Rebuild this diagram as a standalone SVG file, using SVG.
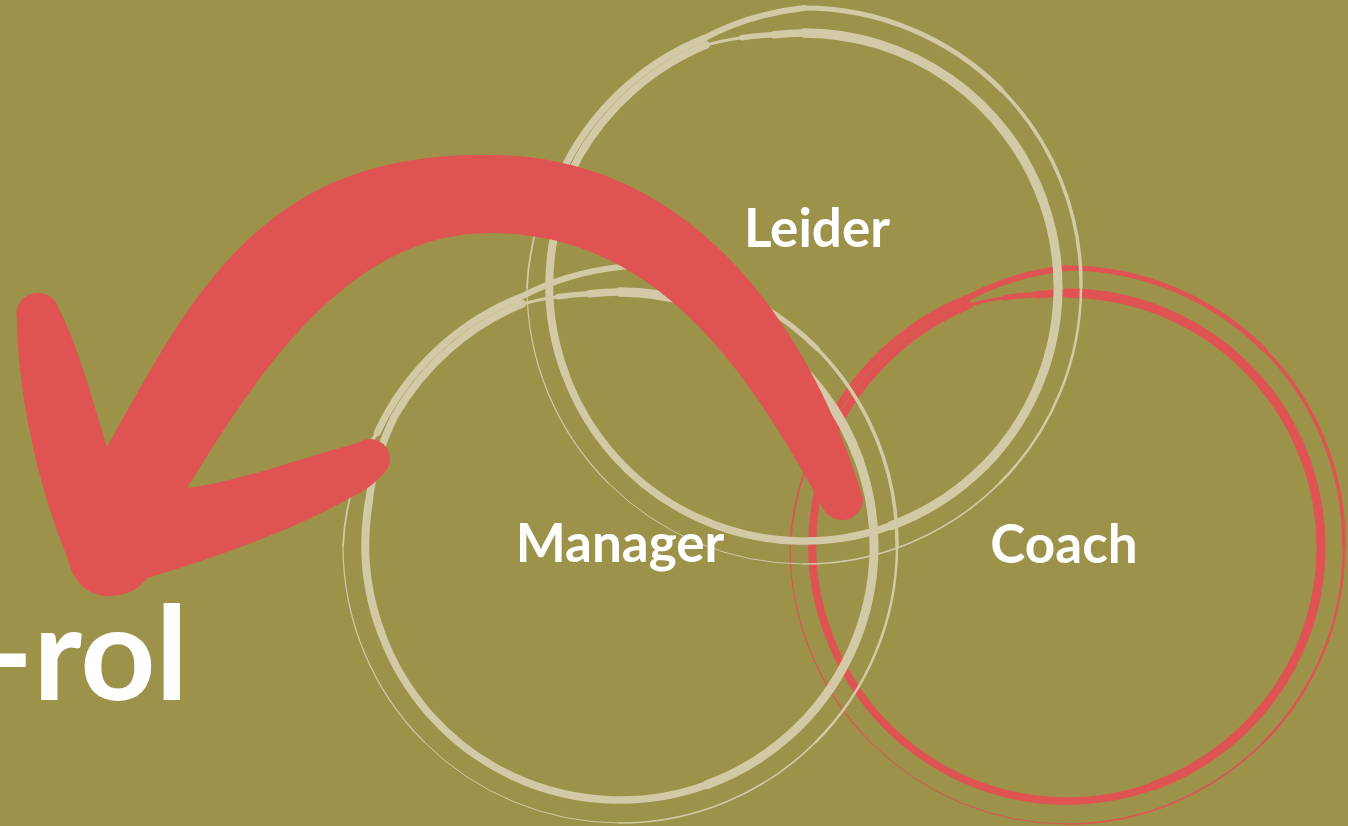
<svg xmlns="http://www.w3.org/2000/svg" xmlns:xlink="http://www.w3.org/1999/xlink" width="1348" height="826" viewBox="0 0 1348 826">
<style>
.lbl{font-family:Lato,"Liberation Sans",sans-serif;font-weight:700;fill:#ffffff;text-anchor:middle;font-size:53px}
.cream{stroke:#D3C9A6}
.red{stroke:#E05353}
</style>
<defs>
<g id="ring" fill="none" stroke-linecap="round">
 <path d="M-106.6,-239.4 A262,262 0 0 1 -62.2,-249.3" stroke-width="3"/>
 <path d="M-62.2,-249.3 A257,257 0 0 1 -30,-252.2" stroke-width="5.5"/>
 <path d="M-30,-252.2 A255,255 0 0 1 0,-254" stroke-width="7.5"/>
 <path d="M0,-254 A254,254 0 0 1 238.7,-86.9" stroke-width="9.5"/>
 <path d="M238.7,-86.9 A254,254 0 0 1 86.9,238.7" stroke-width="9"/>
 <path d="M86.9,238.7 A254,254 0 0 1 -238.7,86.9" stroke-width="7.5"/>
 <path d="M-238.7,86.9 A254,254 0 0 1 -251.1,-44.3" stroke-width="8"/>
 <path d="M-251.1,-44.3 A258,258 0 0 1 -225.2,-130 A261,261 0 0 1 -97.8,-242" stroke-width="7.5"/>
 <path d="M-242.8,-113.3 A268,268 0 0 1 -100.4,-248.5" stroke-width="7"/>
 <path d="M-100.4,-248.5 A279,279 0 0 1 0,-279" stroke-width="6"/>
 <path d="M0,-279 A279,279 0 0 1 197.3,-197.3" stroke-width="5"/>
 <path d="M197.3,-197.3 A277,277 0 0 1 277,0" stroke-width="3.5"/>
 <path d="M277,0 A277,277 0 0 1 195.9,195.9" stroke-width="2.5"/>
 <path d="M195.9,195.9 A277,277 0 0 1 0,277" stroke-width="1.6"/>
 <path d="M0,277 A277,277 0 0 1 -195.9,195.9" stroke-width="1"/>
 <path d="M-195.9,195.9 A277,277 0 0 1 -277,0" stroke-width="1.2"/>
 <path d="M-277,0 A274,274 0 0 1 -255.6,-93" stroke-width="1.8"/>
 <path d="M-255.6,-93 A270,270 0 0 1 -242.8,-113.3" stroke-width="3.5"/>
</g>
</defs>
<rect width="1348" height="826" fill="#9C9249"/>
<g id="coach">
 <use xlink:href="#ring" href="#ring" class="red" transform="translate(1067,547)"/>
 <text class="lbl" x="1064" y="563">Coach</text>
</g>
<g id="leider">
 <use xlink:href="#ring" href="#ring" class="cream" transform="translate(804,287)"/>
 <text class="lbl" x="817" y="247">Leider</text>
</g>
<g id="manager">
 <use xlink:href="#ring" href="#ring" class="cream" transform="translate(620,546)"/>
 <text class="lbl" x="620" y="562">Manager</text>
</g>
<g id="connectors">
 <path fill="#E05353" d="M863,498 C815,340 700,155 490,155 C260,150 190,300 107,447 C95,410 80,350 59,309 A21,21 0 0 0 17,320 C18,400 40,490 67,557 C75,590 95,597 112,596 C128,595 140,588 147,578 C210,560 290,530 333,507 C355,495 372,488 382,475 A20,20 0 0 0 358,443 C310,455 240,482 187,488 C260,369 350,233 490,233 C660,233 751,376 823,508 A21,21 0 0 0 863,498 Z"/>
</g>
<g id="rol">
 <text x="188" y="700" font-size="131" font-family="Lato,'Liberation Sans',sans-serif" font-weight="700" fill="#ffffff" text-anchor="end">-rol</text>
</g>
</svg>
